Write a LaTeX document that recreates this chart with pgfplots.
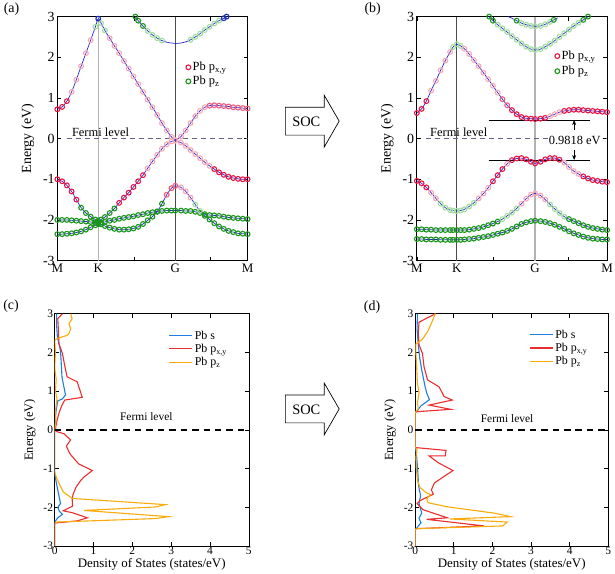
\documentclass[border=0pt]{standalone}
\usepackage{fontspec}
\setmainfont{Liberation Serif}
\usepackage{pgfplots}
\pgfplotsset{compat=1.18}
\usepackage{pgfplotstable}
\usetikzlibrary{arrows.meta}
\newcommand{\fs}[1]{\fontsize{#1}{#1}\selectfont}

\definecolor{colR}{RGB}{232,20,70}
\definecolor{colr}{RGB}{246,168,184}
\definecolor{colm}{RGB}{238,90,125}
\definecolor{colG}{RGB}{25,150,25}
\definecolor{colg}{RGB}{160,220,160}
\definecolor{colB}{RGB}{25,45,185}
\definecolor{bandline}{RGB}{40,40,205}
\definecolor{dosB}{RGB}{30,125,225}
\definecolor{dosR}{RGB}{235,45,45}
\definecolor{dosO}{RGB}{250,170,10}
\definecolor{fermi}{RGB}{100,100,135}

% ---------------- panel (a) bands ----------------
\pgfplotstableread{
x y c
0 0.72 R
0.025 0.78 R
0.05 0.92 R
0.075 1.15 r
0.1 1.45 r
0.125 1.78 r
0.15 2.1 r
0.175 2.42 r
0.2 2.75 g
0.215 2.95 B
0.23 2.84 g
0.25 2.66 g
0.275 2.47 r
0.3 2.28 r
0.325 2.1 r
0.35 1.91 r
0.375 1.72 r
0.4 1.53 r
0.425 1.34 r
0.45 1.15 r
0.475 0.96 r
0.5 0.77 r
0.525 0.58 r
0.55 0.38 r
0.575 0.2 r
0.6 0.04 r
0.62 -0.04 r
0.65 0.05 r
0.675 0.2 r
0.7 0.38 r
0.725 0.55 r
0.75 0.68 r
0.775 0.77 r
0.8 0.81 m
0.825 0.82 m
0.85 0.81 m
0.875 0.8 m
0.9 0.79 m
0.925 0.77 m
0.95 0.76 m
0.975 0.75 m
1 0.74 m
}\tAa
\pgfplotstableread{
x y c
0 -1.0 R
0.025 -1.05 R
0.05 -1.15 R
0.075 -1.3 R
0.1 -1.5 R
0.125 -1.7 G
0.15 -1.83 G
0.175 -1.92 G
0.2 -1.99 G
0.215 -2.02 G
0.23 -1.99 G
0.25 -1.93 G
0.275 -1.83 G
0.3 -1.72 G
0.325 -1.58 R
0.35 -1.45 R
0.375 -1.33 R
0.4 -1.19 R
0.425 -1.05 R
0.45 -0.9 R
0.475 -0.73 r
0.5 -0.56 r
0.525 -0.4 r
0.55 -0.25 r
0.575 -0.14 r
0.6 -0.07 r
0.62 -0.05 r
0.65 -0.1 r
0.675 -0.18 r
0.7 -0.28 r
0.725 -0.38 r
0.75 -0.48 r
0.775 -0.58 r
0.8 -0.67 r
0.825 -0.75 R
0.85 -0.83 R
0.875 -0.89 R
0.9 -0.94 R
0.925 -0.97 R
0.95 -0.99 R
0.975 -1.0 R
1 -1.0 R
}\tAb
\pgfplotstableread{
x y c
0 -2.0 G
0.025 -2.0 G
0.05 -2.0 G
0.075 -2.01 G
0.1 -2.02 G
0.125 -2.03 G
0.15 -2.04 G
0.175 -2.05 G
0.2 -2.07 G
0.215 -2.08 G
0.23 -2.11 G
0.25 -2.15 G
0.275 -2.19 G
0.3 -2.22 G
0.325 -2.24 G
0.35 -2.24 G
0.375 -2.23 G
0.4 -2.21 G
0.425 -2.17 G
0.45 -2.1 G
0.475 -2.01 G
0.5 -1.92 G
0.525 -1.8 G
0.55 -1.6 G
0.575 -1.38 m
0.6 -1.22 m
0.62 -1.16 m
0.65 -1.2 r
0.675 -1.3 r
0.7 -1.45 r
0.725 -1.62 g
0.75 -1.78 g
0.775 -1.86 G
0.8 -1.88 G
0.825 -1.89 G
0.85 -1.9 G
0.875 -1.92 G
0.9 -1.94 G
0.925 -1.95 G
0.95 -1.96 G
0.975 -1.97 G
1 -1.98 G
}\tAc
\pgfplotstableread{
x y c
0 -2.35 G
0.025 -2.35 G
0.05 -2.34 G
0.075 -2.33 G
0.1 -2.31 G
0.125 -2.28 G
0.15 -2.24 G
0.175 -2.18 G
0.2 -2.13 G
0.215 -2.1 G
0.23 -2.07 G
0.25 -2.05 G
0.275 -2.02 G
0.3 -2.0 G
0.325 -1.97 G
0.35 -1.95 G
0.375 -1.93 G
0.4 -1.91 G
0.425 -1.88 G
0.45 -1.86 G
0.475 -1.83 G
0.5 -1.81 G
0.525 -1.79 G
0.55 -1.78 G
0.575 -1.77 G
0.6 -1.77 G
0.62 -1.77 G
0.65 -1.77 G
0.675 -1.78 G
0.7 -1.78 G
0.725 -1.8 G
0.75 -1.83 G
0.775 -1.9 G
0.8 -1.99 G
0.825 -2.08 G
0.85 -2.16 G
0.875 -2.22 G
0.9 -2.27 G
0.925 -2.3 G
0.95 -2.33 G
0.975 -2.34 G
1 -2.35 G
}\tAd
\pgfplotstableread{
x y c
0.41 3.0 G
0.425 2.9 G
0.45 2.77 G
0.475 2.65 g
0.5 2.55 g
0.525 2.47 g
0.55 2.41 g
0.575 2.37 n
0.6 2.35 n
0.62 2.34 n
0.65 2.35 n
0.675 2.38 n
0.7 2.43 g
0.725 2.5 g
0.75 2.58 g
0.775 2.67 g
0.8 2.75 g
0.825 2.83 g
0.85 2.9 g
0.875 2.96 B
0.89 3.0 B
}\tAe

% ---------------- panel (b) bands ----------------
\pgfplotstableread{
x y c
0 0.63 R
0.025 0.73 R
0.05 0.92 R
0.075 1.18 r
0.1 1.42 r
0.125 1.68 r
0.15 1.92 r
0.175 2.13 r
0.19 2.25 g
0.21 2.32 g
0.23 2.28 g
0.25 2.21 r
0.275 2.08 r
0.3 1.93 r
0.325 1.78 r
0.35 1.62 r
0.375 1.46 r
0.4 1.3 r
0.425 1.13 r
0.45 0.97 m
0.475 0.82 m
0.5 0.7 R
0.525 0.6 R
0.55 0.53 R
0.575 0.5 R
0.6 0.49 R
0.622 0.48 R
0.65 0.49 R
0.675 0.51 R
0.7 0.55 r
0.725 0.6 r
0.75 0.65 r
0.775 0.68 R
0.8 0.7 R
0.825 0.71 R
0.85 0.71 R
0.875 0.7 R
0.9 0.69 R
0.925 0.68 R
0.95 0.67 R
0.975 0.66 R
1 0.65 R
}\tBa
\pgfplotstableread{
x y c
0 -1.04 R
0.025 -1.1 R
0.05 -1.2 R
0.075 -1.33 r
0.1 -1.47 r
0.125 -1.6 g
0.15 -1.7 g
0.175 -1.76 g
0.19 -1.77 g
0.21 -1.78 g
0.23 -1.77 g
0.25 -1.74 g
0.275 -1.67 g
0.3 -1.58 g
0.325 -1.47 r
0.35 -1.35 r
0.375 -1.21 r
0.4 -1.05 R
0.425 -0.9 R
0.45 -0.75 R
0.475 -0.62 r
0.5 -0.53 R
0.525 -0.49 R
0.55 -0.48 R
0.575 -0.51 R
0.6 -0.57 R
0.622 -0.61 R
0.65 -0.57 R
0.675 -0.51 R
0.7 -0.48 R
0.725 -0.48 R
0.75 -0.52 R
0.775 -0.59 r
0.8 -0.7 r
0.825 -0.8 r
0.85 -0.87 r
0.875 -0.93 R
0.9 -0.98 R
0.925 -1.02 R
0.95 -1.04 R
0.975 -1.06 R
1 -1.07 R
}\tBb
\pgfplotstableread{
x y c
0 -2.23 G
0.025 -2.23 G
0.05 -2.24 G
0.075 -2.24 G
0.1 -2.25 G
0.125 -2.25 G
0.15 -2.25 G
0.175 -2.25 G
0.19 -2.25 G
0.21 -2.25 G
0.23 -2.25 G
0.25 -2.25 G
0.275 -2.24 G
0.3 -2.22 G
0.325 -2.2 G
0.35 -2.17 G
0.375 -2.13 G
0.4 -2.09 G
0.425 -2.04 G
0.45 -1.98 g
0.475 -1.9 g
0.5 -1.82 g
0.525 -1.72 g
0.55 -1.6 r
0.575 -1.48 r
0.6 -1.38 r
0.622 -1.35 r
0.65 -1.4 r
0.675 -1.5 r
0.7 -1.62 g
0.725 -1.73 g
0.75 -1.83 g
0.775 -1.92 g
0.8 -1.98 G
0.825 -2.03 G
0.85 -2.08 G
0.875 -2.13 G
0.9 -2.17 G
0.925 -2.2 G
0.95 -2.22 G
0.975 -2.24 G
1 -2.25 G
}\tBc
\pgfplotstableread{
x y c
0 -2.47 G
0.025 -2.47 G
0.05 -2.48 G
0.075 -2.48 G
0.1 -2.48 G
0.125 -2.49 G
0.15 -2.49 G
0.175 -2.49 G
0.19 -2.49 G
0.21 -2.49 G
0.23 -2.49 G
0.25 -2.48 G
0.275 -2.47 G
0.3 -2.46 G
0.325 -2.44 G
0.35 -2.42 G
0.375 -2.4 G
0.4 -2.37 G
0.425 -2.34 G
0.45 -2.31 G
0.475 -2.27 G
0.5 -2.22 G
0.525 -2.16 G
0.55 -2.1 G
0.575 -2.06 G
0.6 -2.03 G
0.622 -2.02 G
0.65 -2.03 G
0.675 -2.05 G
0.7 -2.08 G
0.725 -2.12 G
0.75 -2.17 G
0.775 -2.22 G
0.8 -2.28 G
0.825 -2.33 G
0.85 -2.37 G
0.875 -2.41 G
0.9 -2.44 G
0.925 -2.46 G
0.95 -2.47 G
0.975 -2.48 G
1 -2.48 G
}\tBd
\pgfplotstableread{
x y c
0.38 3.0 G
0.4 2.9 G
0.425 2.8 g
0.45 2.71 g
0.475 2.62 g
0.5 2.52 g
0.525 2.43 g
0.55 2.34 g
0.575 2.26 g
0.6 2.2 g
0.622 2.18 g
0.65 2.2 g
0.675 2.26 g
0.7 2.33 g
0.725 2.41 g
0.75 2.5 g
0.775 2.59 g
0.8 2.68 g
0.825 2.77 g
0.85 2.85 g
0.875 2.92 G
0.9 3.0 G
}\tBe
\pgfplotstableread{
x y c
0.48 3.0 n
0.5 2.96 n
0.525 2.9 G
0.55 2.84 g
0.575 2.8 g
0.6 2.77 g
0.622 2.76 g
0.65 2.77 g
0.675 2.81 g
0.7 2.87 g
0.72 2.92 G
0.74 2.97 n
}\tBf

\pgfplotsset{
  bandaxis/.style={scale only axis, width=191pt, height=245pt,
    xmin=0, xmax=1, ymin=-3, ymax=3,
    ytick={-3,-2,-1,0,1,2,3}, yticklabels={-3,-2,-1,0,1,2,3},
    major tick length=4pt, tick style={black, line width=0.6pt},
    axis line style={line width=0.7pt},
    yticklabel style={font=\fs{14}, inner sep=2.5pt},
    xticklabel style={font=\fs{13}, inner sep=0pt, yshift=-3pt},
    ylabel={Energy (eV)}, ylabel style={font=\fs{14}}, ylabel shift=3pt,
    legend style={draw=none, fill=none, font=\fs{12.5}, inner sep=0pt,
      cells={anchor=west}},
    legend image code/.code={\draw[##1] plot coordinates {(0pt,0pt)};},
  },
  bm/.style={scatter, only marks, mark=o, mark size=2.4pt, line width=1.1pt,
    scatter src=explicit symbolic,
    scatter/classes={R={colR}, r={colr}, m={colm}, G={colG}, g={colg}, B={colB}, n={mark=none}}},
  bl/.style={bandline, line width=0.7pt, smooth, no marks},
  dosaxis/.style={scale only axis, width=195pt, height=233.4pt,
    xmin=0, xmax=5, ymin=-3, ymax=3,
    xtick={0,1,2,3,4,5}, xticklabels={0,1,2,3,4,5},
    ytick={-3,-2,-1,0,1,2,3}, yticklabels={-3,-2,-1,0,1,2,3},
    major tick length=4pt, tick style={black, line width=0.6pt},
    axis line style={line width=0.7pt},
    yticklabel style={font=\fs{11.5}, inner sep=1.5pt},
    xticklabel style={font=\fs{11.5}, inner sep=0pt, yshift=-1pt},
    ylabel={Energy (eV)}, ylabel style={font=\fs{12.5}}, ylabel shift=3pt,
    xlabel={Density of States (states/eV)},
    xlabel style={font=\fs{13}, at={(axis description cs:0.5,0)}, anchor=north, inner sep=0pt, yshift=-12pt},
    legend style={draw=none, fill=none, font=\fs{12}, inner sep=0pt,
      row sep=-0.5pt, cells={anchor=west}},
    legend image code/.code={\draw[line width=1.1pt,##1] (0pt,0pt) -- (23pt,0pt);},
  },
  dl/.style={line width=1.1pt, no marks, sharp plot},
}

\begin{document}
\begin{tikzpicture}
\path (0,0) rectangle (615pt,574pt);

% ================= (a) =================
\begin{axis}[bandaxis, at={(55pt,314pt)}, anchor=south west,
  xtick={0,0.215,0.62,1}, xticklabels={M,K,G,M},
  extra x ticks={0.407,0.803}, extra x tick labels={},
  legend style={at={(0.675,0.822)}, anchor=north west, row sep=0pt}]
\addlegendimage{only marks, mark=o, mark size=2.4pt, line width=1.1pt, colR}
\addlegendentry{Pb p\textsubscript{x,y}}
\addlegendimage{only marks, mark=o, mark size=2.4pt, line width=1.1pt, colG}
\addlegendentry{Pb p\textsubscript{z}}
\draw[gray!60, line width=1.4pt] (axis cs:0.215,-3) -- (axis cs:0.215,3);
\draw[black!70, line width=0.6pt] (axis cs:0.62,-3) -- (axis cs:0.62,3);
\draw[fermi, line width=0.6pt, dash pattern=on 5pt off 4pt] (axis cs:0.05,0) -- (axis cs:1,0);
\addplot[bm] table[x=x,y=y,meta=c]{\tAd};
\addplot[bm] table[x=x,y=y,meta=c]{\tAc};
\addplot[bm] table[x=x,y=y,meta=c]{\tAb};
\addplot[bm] table[x=x,y=y,meta=c]{\tAa};
\addplot[bm] table[x=x,y=y,meta=c]{\tAe};
\addplot[bl] table[x=x,y=y]{\tAa};
\addplot[bl] table[x=x,y=y]{\tAb};
\addplot[bl] table[x=x,y=y]{\tAc};
\addplot[bl] table[x=x,y=y]{\tAd};
\addplot[bl] table[x=x,y=y]{\tAe};
\node[font=\fs{12.5}] at (axis cs:0.227,0.16) {Fermi level};
\end{axis}

% ================= (b) =================
\begin{axis}[bandaxis, at={(416pt,314pt)}, anchor=south west,
  xtick={0,0.21,0.622,1}, xticklabels={M,K,G,M},
  extra x ticks={0.4,0.797}, extra x tick labels={},
  legend style={at={(0.725,0.868)}, anchor=north west, row sep=1pt}]
\addlegendimage{only marks, mark=o, mark size=2.4pt, line width=1.1pt, colR}
\addlegendentry{Pb p\textsubscript{x,y}}
\addlegendimage{only marks, mark=o, mark size=2.4pt, line width=1.1pt, colG}
\addlegendentry{Pb p\textsubscript{z}}
\draw[black!70, line width=0.6pt] (axis cs:0.21,-3) -- (axis cs:0.21,3);
\draw[gray!60, line width=1.4pt] (axis cs:0.622,-3) -- (axis cs:0.622,3);
\draw[fermi, line width=0.6pt, dash pattern=on 5pt off 4pt] (axis cs:0.05,0) -- (axis cs:1,0);
\addplot[bm] table[x=x,y=y,meta=c]{\tBd};
\addplot[bm] table[x=x,y=y,meta=c]{\tBc};
\addplot[bm] table[x=x,y=y,meta=c]{\tBb};
\addplot[bm] table[x=x,y=y,meta=c]{\tBa};
\addplot[bm] table[x=x,y=y,meta=c]{\tBe};
\addplot[bm] table[x=x,y=y,meta=c]{\tBf};
\addplot[bl] table[x=x,y=y]{\tBa};
\addplot[bl] table[x=x,y=y]{\tBb};
\addplot[bl] table[x=x,y=y]{\tBc};
\addplot[bl] table[x=x,y=y]{\tBd};
\addplot[bl] table[x=x,y=y]{\tBe};
\addplot[bl] table[x=x,y=y]{\tBf};
\draw[black, line width=0.8pt] (axis cs:0.378,0.455) -- (axis cs:0.911,0.455);
\draw[black, line width=0.8pt] (axis cs:0.378,-0.527) -- (axis cs:0.911,-0.527);
\node[font=\fs{12.5}, fill=white, inner sep=1pt] at (axis cs:0.83,-0.045) {0.9818 eV};
\draw[-{Stealth[length=5pt,width=4pt]}, line width=0.6pt] (axis cs:0.827,0.2) -- (axis cs:0.827,0.455);
\draw[-{Stealth[length=5pt,width=4pt]}, line width=0.6pt] (axis cs:0.827,-0.28) -- (axis cs:0.827,-0.527);
\node[font=\fs{12.5}] at (axis cs:0.22,0.16) {Fermi level};
\end{axis}

% ================= (c) =================
\begin{axis}[dosaxis, at={(52.3pt,27.3pt)}, anchor=south west,
  legend style={at={(0.587,0.936)}, anchor=north west}]
\addplot[dl, dosB] coordinates {(0.05,3.0)(0.05,2.7)(0.07,2.4)(0.15,2.05)(0.17,1.7)(0.19,1.35)(0.28,0.9)(0.2,0.8)(0.08,0.75)(0.03,0.45)(0.01,0.1)(0,0)(0,-1.1)(0.03,-1.3)(0.08,-1.55)(0.12,-1.75)(0.15,-1.9)(0.08,-2.0)(0.12,-2.1)(0.2,-2.18)(0.08,-2.27)(0,-2.38)(0,-3)};
\addlegendentry{Pb s}
\addplot[dl, dosR] coordinates {(0.2,3.0)(0.08,2.87)(0.1,2.5)(0.11,2.23)(0.2,1.97)(0.26,1.65)(0.32,1.37)(0.58,1.24)(0.71,0.84)(0.26,0.77)(0.18,0.62)(0.11,0.43)(0.05,0.2)(0.02,0.02)(0.03,-0.03)(0.1,-0.06)(0.24,-0.1)(0.41,-0.26)(0.3,-0.42)(0.36,-0.55)(0.41,-0.64)(0.62,-0.88)(0.97,-1.05)(0.75,-1.22)(0.66,-1.32)(0.55,-1.48)(0.48,-1.65)(0.45,-1.76)(0.46,-1.97)(0.22,-2.09)(0.46,-2.14)(0.84,-2.27)(0.58,-2.35)(0.05,-2.4)(0,-2.41)(0,-3)};
\addlegendentry{Pb p\textsubscript{x,y}}
\addplot[dl, dosO] coordinates {(0.41,3.0)(0.45,2.87)(0.37,2.74)(0.41,2.61)(0.37,2.49)(0.32,2.44)(0.07,2.36)(0,2.32)(0.02,2.0)(0.0,1.6)(0.04,1.3)(0.02,1.0)(0.06,0.8)(0.02,0.5)(0.03,0.2)(0,0.0)(0,-1.1)(0.05,-1.25)(0.12,-1.4)(0.22,-1.6)(0.45,-1.77)(2.85,-1.93)(2.6,-1.99)(0.75,-2.08)(2.93,-2.24)(2.6,-2.29)(0.05,-2.38)(0,-2.4)(0,-3)};
\addlegendentry{Pb p\textsubscript{z}}
\draw[black, line width=1.3pt, dash pattern=on 6.5pt off 5pt] (axis cs:0,0) -- (axis cs:5,0);
\node[font=\fs{11.5}] at (axis cs:2.36,0.34) {Fermi level};
\end{axis}

% ================= (d) =================
\begin{axis}[dosaxis, at={(414.3pt,27.3pt)}, anchor=south west, width=194pt,
  legend style={at={(0.59,0.94)}, anchor=north west, row sep=-0.5pt}]
\addplot[dl, dosB] coordinates {(0.06,3.0)(0.05,2.6)(0.08,2.2)(0.12,1.85)(0.17,1.55)(0.25,1.15)(0.3,0.95)(0.37,0.78)(0.15,0.62)(0.06,0.5)(0,0.45)(0,-0.45)(0.03,-0.6)(0.06,-0.95)(0.09,-1.45)(0.14,-1.7)(0.1,-1.9)(0.17,-2.15)(0.1,-2.28)(0.15,-2.4)(0.03,-2.55)(0,-2.57)(0,-3)};
\addlegendentry{Pb s}
\addplot[dl, dosR] coordinates {(0.53,3.0)(0.1,2.78)(0.08,2.5)(0.1,2.2)(0.19,1.97)(0.23,1.63)(0.32,1.29)(0.62,1.11)(0.75,0.86)(0.96,0.77)(0.36,0.64)(0.92,0.53)(0.06,0.47)(0,0.45)(0,-0.45)(0.04,-0.46)(0.8,-0.53)(0.78,-0.67)(0.36,-0.67)(0.6,-0.85)(0.98,-1.05)(0.75,-1.2)(0.5,-1.37)(0.42,-1.55)(0.47,-1.66)(0.12,-1.83)(0.05,-1.9)(0.2,-2.06)(0.83,-2.27)(0.3,-2.31)(1.78,-2.48)(0.04,-2.55)(0,-2.57)(0,-3)};
\addlegendentry{Pb p\textsubscript{x,y}}
\addplot[dl, dosO] coordinates {(0.52,3.0)(0.42,2.75)(0.32,2.53)(0.18,2.33)(0.02,2.22)(0.02,2.0)(0.04,1.6)(0.06,1.2)(0.1,0.95)(0.06,0.7)(0.08,0.55)(0.02,0.47)(0,0.45)(0,-0.45)(0.05,-0.5)(0.02,-0.7)(0.03,-1.0)(0.06,-1.3)(0.12,-1.48)(0.28,-1.62)(0.4,-1.67)(0.3,-1.78)(0.33,-1.88)(0.8,-1.98)(1.3,-2.05)(2.05,-2.15)(2.47,-2.24)(0.9,-2.3)(2.38,-2.38)(2.27,-2.48)(0.05,-2.55)(0,-2.57)(0,-3)};
\addlegendentry{Pb p\textsubscript{z}}
\draw[black, line width=1.3pt, dash pattern=on 6.5pt off 5pt] (axis cs:0,0) -- (axis cs:5,0);
\node[font=\fs{11.5}] at (axis cs:2.38,0.3) {Fermi level};
\end{axis}

% ================= labels and SOC arrows =================
\node[font=\fs{14}] at (9pt,566pt) {(a)};
\node[font=\fs{14}] at (371.7pt,566pt) {(b)};
\node[font=\fs{14}] at (8.5pt,268pt) {(c)};
\node[font=\fs{14}] at (371pt,267pt) {(d)};

\draw[black, line width=0.7pt] (284pt,468pt) -- (323pt,468pt) -- (323pt,480pt) -- (338pt,454pt) -- (323pt,428pt) -- (323pt,440pt) -- (284pt,440pt) -- cycle;
\node[font=\fs{14.5}] at (305pt,453.5pt) {SOC};
\draw[black, line width=0.7pt] (284pt,179pt) -- (323pt,179pt) -- (323pt,191pt) -- (338pt,165pt) -- (323pt,139pt) -- (323pt,151pt) -- (284pt,151pt) -- cycle;
\node[font=\fs{14.5}] at (305pt,164.5pt) {SOC};
\end{tikzpicture}
\end{document}
